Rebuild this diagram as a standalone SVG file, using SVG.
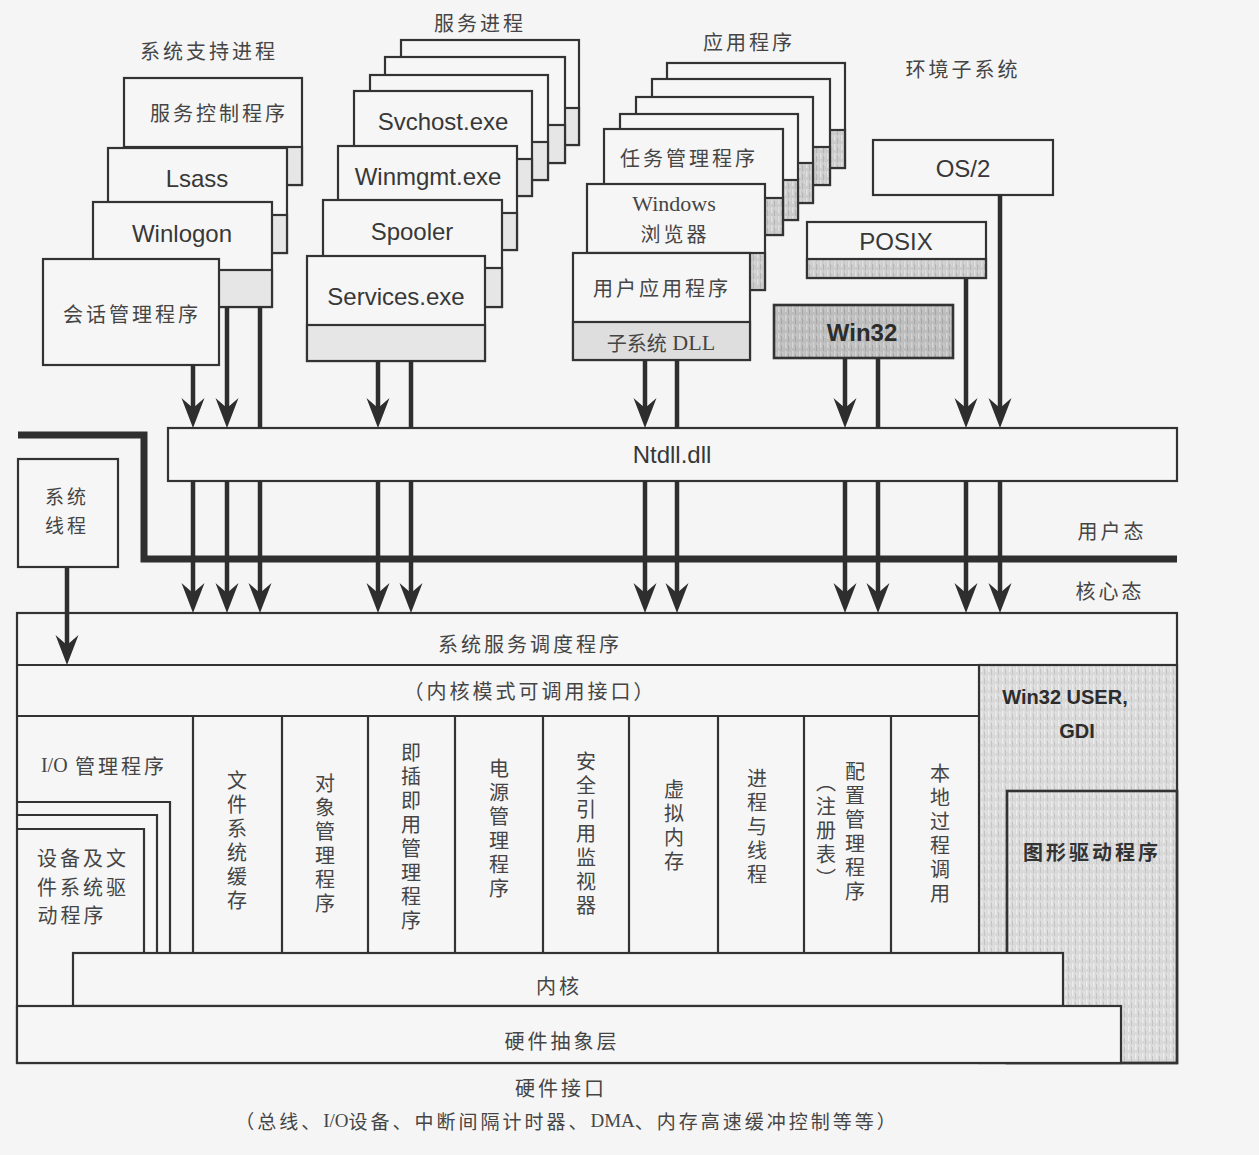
<svg xmlns="http://www.w3.org/2000/svg" width="1259" height="1155" viewBox="0 0 1259 1155">
<style>
.box{fill:#f6f6f6;stroke:#333;stroke-width:2.2}
.ln{fill:none;stroke:#333;stroke-width:2.2}
.sl{fill:#e6e6e6;stroke:#333;stroke-width:2.2}
.sd{fill:url(#tex);stroke:#333;stroke-width:2.2}
.cn{font-family:"Noto Sans CJK SC","Noto Sans CJK TC",sans-serif;font-size:20px;fill:#454545;letter-spacing:3px;text-anchor:middle;dominant-baseline:central}
.vt{font-family:"Noto Sans CJK SC",sans-serif;font-size:20px;fill:#454545;letter-spacing:4px;text-anchor:middle;writing-mode:vertical-rl}
.en{font-family:"Liberation Sans",Arial,sans-serif;font-size:24px;fill:#383838;text-anchor:middle;dominant-baseline:central}
.sf{font-family:"Liberation Serif","Noto Sans CJK SC",serif;font-size:22px;fill:#454545;text-anchor:middle;dominant-baseline:central}
.bd{font-family:"Liberation Sans",Arial,sans-serif;font-weight:bold;fill:#2c2c2c;text-anchor:middle;dominant-baseline:central}
.arr{fill:none;stroke:#2e2e2e;stroke-width:4.5}
</style>
<defs>
<pattern id="tex" width="7" height="9" patternUnits="userSpaceOnUse">
<rect width="7" height="9" fill="#cbcbcb"/>
<rect x="1" y="0" width="1.5" height="6" fill="#e0e0e0"/>
<rect x="4" y="3" width="1" height="6" fill="#b5b5b5"/>
<rect x="5.5" y="0" width="1" height="4" fill="#dcdcdc"/>
</pattern>
<pattern id="texK" width="7" height="9" patternUnits="userSpaceOnUse">
<rect width="7" height="9" fill="#d9d9d9"/>
<rect x="1" y="0" width="1.5" height="6" fill="#ececec"/>
<rect x="4" y="3" width="1" height="6" fill="#c4c4c4"/>
<rect x="5.5" y="1" width="1" height="4" fill="#e8e8e8"/>
</pattern>
<pattern id="texW" width="7" height="9" patternUnits="userSpaceOnUse">
<rect width="7" height="9" fill="#bdbdbd"/>
<rect x="1" y="0" width="1.5" height="6" fill="#d4d4d4"/>
<rect x="4" y="3" width="1" height="6" fill="#a6a6a6"/>
<rect x="5.5" y="1" width="1" height="4" fill="#cdcdcd"/>
</pattern>
<marker id="ah" markerUnits="userSpaceOnUse" markerWidth="32" markerHeight="24" viewBox="0 -12 32 24" refX="12" refY="0" orient="auto">
<path d="M0,-11.5 L30,0 L0,11.5 L10,0 Z" fill="#2e2e2e"/>
</marker>
</defs>
<rect width="1259" height="1155" fill="#f5f5f5"/>

<!-- titles -->
<g id="titles">
<text class="cn" x="209" y="50">系统支持进程</text>
<text class="cn" x="480" y="22">服务进程</text>
<text class="cn" x="749" y="41">应用程序</text>
<text class="cn" x="963" y="68">环境子系统</text>
</g>

<!-- system support processes -->
<g id="svc-control">
<rect class="box" x="124" y="78" width="178" height="107"/>
<rect class="sl" x="124" y="147" width="178" height="38"/>
<text class="cn" x="219" y="112">服务控制程序</text>
</g>
<g id="lsass">
<rect class="box" x="108" y="148" width="179" height="105"/>
<rect class="sl" x="108" y="215" width="179" height="38"/>
<text class="en" x="197" y="178">Lsass</text>
</g>
<g id="winlogon">
<rect class="box" x="93" y="202" width="179" height="105"/>
<rect class="sl" x="93" y="270" width="179" height="37"/>
<text class="en" x="182" y="233">Winlogon</text>
</g>
<g id="smss">
<rect class="box" x="43" y="259" width="176" height="106"/>
<text class="cn" x="132" y="313">会话管理程序</text>
</g>

<!-- service processes -->
<g id="svc-a"><rect class="box" x="401" y="40" width="178" height="105"/><rect class="sl" x="401" y="108" width="178" height="37"/></g>
<g id="svc-b"><rect class="box" x="385" y="57" width="180" height="106"/><rect class="sl" x="385" y="125" width="180" height="38"/></g>
<g id="svc-c"><rect class="box" x="370" y="75" width="178" height="105"/><rect class="sl" x="370" y="142" width="178" height="38"/></g>
<g id="svchost"><rect class="box" x="354" y="91" width="178" height="105"/><rect class="sl" x="354" y="159" width="178" height="37"/>
<text class="en" x="443" y="121">Svchost.exe</text></g>
<g id="winmgmt"><rect class="box" x="338" y="146" width="179" height="104"/><rect class="sl" x="338" y="213" width="179" height="37"/>
<text class="en" x="428" y="176">Winmgmt.exe</text></g>
<g id="spooler"><rect class="box" x="323" y="200" width="179" height="107"/><rect class="sl" x="323" y="268" width="179" height="39"/>
<text class="en" x="412" y="231">Spooler</text></g>
<g id="services"><rect class="box" x="307" y="256" width="178" height="105"/><rect class="sl" x="307" y="325" width="178" height="36"/>
<text class="en" x="396" y="296">Services.exe</text></g>

<!-- applications -->
<g id="app-1"><rect class="box" x="667" y="63" width="178" height="105"/><rect class="sd" x="667" y="130" width="178" height="38"/></g>
<g id="app-2"><rect class="box" x="652" y="79" width="178" height="106"/><rect class="sd" x="652" y="147" width="178" height="38"/></g>
<g id="app-3"><rect class="box" x="636" y="97" width="177" height="106"/><rect class="sd" x="636" y="163" width="177" height="40"/></g>
<g id="app-4"><rect class="box" x="620" y="114" width="178" height="106"/><rect class="sd" x="620" y="180" width="178" height="40"/></g>
<g id="taskmgr"><rect class="box" x="604" y="129" width="179" height="106"/><rect class="sd" x="604" y="198" width="179" height="37"/>
<text class="cn" x="689" y="157">任务管理程序</text></g>
<g id="explorer"><rect class="box" x="587" y="184" width="178" height="106"/><rect class="sd" x="587" y="253" width="178" height="37"/>
<text class="sf" x="674" y="203">Windows</text>
<text class="cn" x="675" y="233">浏览器</text></g>
<g id="user-app"><rect class="box" x="573" y="253" width="177" height="107"/><rect class="sl" x="573" y="322" width="177" height="38" style="fill:#dedede"/>
<text class="cn" x="662" y="287">用户应用程序</text>
<text class="sf" x="661" y="342"><tspan font-family="Noto Sans CJK SC" font-size="20">子系统</tspan> DLL</text></g>

<!-- environment subsystems -->
<g id="os2"><rect class="box" x="873" y="140" width="180" height="55"/><text class="en" x="963" y="168">OS/2</text></g>
<g id="posix"><rect class="box" x="807" y="222" width="179" height="56"/><rect class="sd" x="807" y="259" width="179" height="19"/><text class="en" x="896" y="241">POSIX</text></g>
<g id="win32"><rect x="774" y="305" width="179" height="53" fill="url(#texW)" stroke="#333" stroke-width="2.6"/><text class="bd" x="862" y="332" font-size="24">Win32</text></g>

<!-- ntdll -->
<g id="ntdll"><rect class="box" x="168" y="428" width="1009" height="53"/><text class="en" x="672" y="454">Ntdll.dll</text></g>

<!-- user/kernel boundary -->
<g id="mode-boundary">
<path d="M18,435 H144 V559 H1177" fill="none" stroke="#2f2f2f" stroke-width="7"/>
<text class="cn" x="1112" y="530">用户态</text>
<text class="cn" x="1110" y="590">核心态</text>
</g>

<!-- system threads -->
<g id="sys-threads"><rect class="box" x="18" y="459" width="100" height="108"/>
<text class="cn" x="67" y="495" style="font-size:19px">系统</text><text class="cn" x="67" y="524" style="font-size:19px">线程</text></g>

<!-- kernel executive -->
<g id="executive">
<rect class="box" x="17" y="613" width="1160" height="450"/>
<rect x="979" y="665" width="198" height="398" fill="url(#texK)" stroke="#333" stroke-width="2.2"/>
<line class="ln" x1="17" y1="665" x2="1177" y2="665"/>
<line class="ln" x1="17" y1="716" x2="979" y2="716"/>
<text class="cn" x="530" y="643">系统服务调度程序</text>
<text class="cn" x="530" y="690">（内核模式可调用接口）</text>
<path class="ln" d="M193,716V953 M282,716V953 M368,716V953 M455,716V953 M543,716V953 M629,716V953 M718,716V953 M804,716V953 M891,716V953"/>
</g>
<g id="io-manager">
<text class="cn" x="104" y="765"><tspan font-family="Liberation Serif" letter-spacing="0">I/O</tspan> 管理程序</text>
<path class="ln" d="M17,802H170V953 M17,815H157V953 M17,829H144V953"/>
<text class="cn" x="83" y="857">设备及文</text>
<text class="cn" x="83" y="886">件系统驱</text>
<text class="cn" x="72" y="914">动程序</text>
</g>
<g id="cache-mgr"><text class="vt" x="237" y="842">文件系统缓存</text></g>
<g id="object-mgr"><text class="vt" x="325" y="845">对象管理程序</text></g>
<g id="pnp-mgr"><text class="vt" x="411" y="838">即插即用管理程序</text></g>
<g id="power-mgr"><text class="vt" x="499" y="830">电源管理程序</text></g>
<g id="srm"><text class="vt" x="586" y="835">安全引用监视器</text></g>
<g id="vm"><text class="vt" x="674" y="827">虚拟内存</text></g>
<g id="proc-thread"><text class="vt" x="757" y="828">进程与线程</text></g>
<g id="config-mgr"><text class="vt" x="855" y="833">配置管理程序</text><text class="vt" x="826" y="832">（注册表）</text></g>
<g id="lpc"><text class="vt" x="940" y="835">本地过程调用</text></g>
<g id="win32k">
<text class="bd" x="1065" y="697" font-size="20">Win32 USER,</text>
<text class="bd" x="1077" y="731" font-size="20">GDI</text>
</g>
<g id="graphics-drivers">
<rect x="1007" y="791" width="170" height="272" fill="none" stroke="#333" stroke-width="2.6"/>
<text class="cn" x="1092" y="851" style="font-weight:700;fill:#333">图形驱动程序</text>
</g>
<g id="kernel"><rect class="box" x="73" y="953" width="990" height="53"/><text class="cn" x="559" y="985">内核</text></g>
<g id="hal"><rect class="box" x="17" y="1006" width="1104" height="57"/><text class="cn" x="562" y="1040">硬件抽象层</text></g>

<g id="hardware">
<text class="cn" x="561" y="1087">硬件接口</text>
<text class="cn" x="567" y="1120" style="font-size:19px;letter-spacing:3px">（总线、<tspan font-family="Liberation Serif" letter-spacing="0">I/O</tspan>设备、中断间隔计时器、<tspan font-family="Liberation Serif" letter-spacing="0">DMA</tspan>、内存高速缓冲控制等等）</text>
</g>

<!-- connectors -->
<g id="connectors">
<path class="arr" d="M193,365V410" marker-end="url(#ah)"/>
<path class="arr" d="M227,307V410" marker-end="url(#ah)"/>
<path class="arr" d="M260,307V428"/>
<path class="arr" d="M378,361V410" marker-end="url(#ah)"/>
<path class="arr" d="M411,361V428"/>
<path class="arr" d="M645,360V410" marker-end="url(#ah)"/>
<path class="arr" d="M677,360V428"/>
<path class="arr" d="M845,358V410" marker-end="url(#ah)"/>
<path class="arr" d="M878,358V428"/>
<path class="arr" d="M966,278V410" marker-end="url(#ah)"/>
<path class="arr" d="M1000,195V410" marker-end="url(#ah)"/>
<path class="arr" d="M193,481V595" marker-end="url(#ah)"/>
<path class="arr" d="M227,481V595" marker-end="url(#ah)"/>
<path class="arr" d="M260,481V595" marker-end="url(#ah)"/>
<path class="arr" d="M378,481V595" marker-end="url(#ah)"/>
<path class="arr" d="M411,481V595" marker-end="url(#ah)"/>
<path class="arr" d="M645,481V595" marker-end="url(#ah)"/>
<path class="arr" d="M677,481V595" marker-end="url(#ah)"/>
<path class="arr" d="M845,481V595" marker-end="url(#ah)"/>
<path class="arr" d="M878,481V595" marker-end="url(#ah)"/>
<path class="arr" d="M966,481V595" marker-end="url(#ah)"/>
<path class="arr" d="M1000,481V595" marker-end="url(#ah)"/>
<path class="arr" d="M67,567V647" marker-end="url(#ah)"/>
</g>
</svg>
